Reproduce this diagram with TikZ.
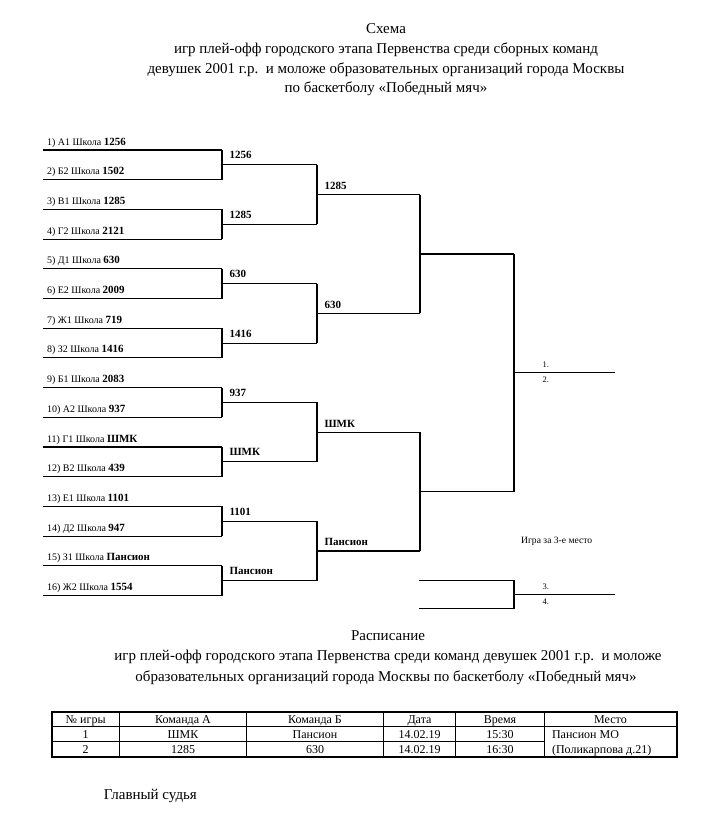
\documentclass[tikz,border=0pt]{standalone}
\usepackage{fontspec}
\setmainfont{Liberation Serif}
\usetikzlibrary{calc}
\begin{document}
\begin{tikzpicture}[x=1pt,y=-1pt,line width=1.1pt,
  team/.style={anchor=base west,inner sep=0pt,font=\fontsize{10}{11}\selectfont},
  win/.style={anchor=base west,inner sep=0pt,font=\fontsize{11}{12}\selectfont\bfseries},
  place/.style={anchor=base west,inner sep=0pt,font=\fontsize{8.5}{9}\selectfont},
  ttl/.style={anchor=base,inner sep=0pt,font=\fontsize{15}{17}\selectfont},
  cell/.style={anchor=base,inner sep=0pt,font=\fontsize{12}{13}\selectfont},
  thick border/.style={line width=1.8pt},
  thin rule/.style={line width=1.1pt}]
\fill[white] (0,0) rectangle (720,838);
\useasboundingbox (0,0) rectangle (720,838);

% titles
\node[ttl] (t1) at (386,33.3) {Схема};
\node[ttl] (t2) at (386,53.5) {игр плей-офф городского этапа Первенства среди сборных команд};
\node[ttl] (t3) at (386,73) {девушек 2001 г.р.\ \ и моложе образовательных организаций города Москвы};
\node[ttl] (t4) at (386,92) {по баскетболу «Победный мяч»};

% round 1
\foreach \i/\c/\n in {1/А1/1256,2/Б2/1502,3/В1/1285,4/Г2/2121,5/Д1/630,6/Е2/2009,7/Ж1/719,8/З2/1416,
  9/Б1/2083,10/А2/937,11/Г1/ШМК,12/В2/439,13/Е1/1101,14/Д2/947,15/З1/Пансион,16/Ж2/1554}{
  \pgfmathsetmacro\yy{150+29.7*(\i-1)}
  \coordinate (tL\i) at (43,\yy);
  \coordinate (tR\i) at (222,\yy);
  \draw (tL\i) -- (tR\i);
  \node[team] (lab\i) at (46.5,\yy-5) {\i) \c\ Школа {\fontsize{11}{12}\selectfont\bfseries \n}};
}
% round 2
\foreach \j/\w in {1/1256,2/1285,3/630,4/1416,5/937,6/ШМК,7/1101,8/Пансион}{
  \pgfmathtruncatemacro\a{2*\j-1}
  \pgfmathtruncatemacro\b{2*\j}
  \draw (tR\a) -- (tR\b);
  \coordinate (sL\j) at ($(tR\a)!.5!(tR\b)$);
  \path (sL\j) ++(95,0) coordinate (sR\j);
  \draw (sL\j) -- (sR\j);
  \node[win] (w2-\j) at ([shift={(7,-6)}]sL\j) {\w};
}
% round 3
\foreach \j/\w in {1/1285,2/630,3/ШМК,4/Пансион}{
  \pgfmathtruncatemacro\a{2*\j-1}
  \pgfmathtruncatemacro\b{2*\j}
  \draw (sR\a) -- (sR\b);
  \coordinate (qL\j) at ($(sR\a)!.5!(sR\b)$);
  \path (qL\j) ++(103,0) coordinate (qR\j);
  \draw (qL\j) -- (qR\j);
  \node[win] (w3-\j) at ([shift={(7,-5)}]qL\j) {\w};
}
% semifinals
\foreach \j in {1,2}{
  \pgfmathtruncatemacro\a{2*\j-1}
  \pgfmathtruncatemacro\b{2*\j}
  \draw (qR\a) -- (qR\b);
  \coordinate (pL\j) at ($(qR\a)!.5!(qR\b)$);
  \path (pL\j) ++(94,0) coordinate (pR\j);
  \draw (pL\j) -- (pR\j);
}
% final
\draw (pR1) -- (pR2);
\coordinate (fL) at ($(pR1)!.5!(pR2)$);
\path (fL) ++(101,0) coordinate (fR);
\draw (fL) -- (fR);
\node[place] (p1) at ([shift={(28,-5)}]fL) {1.};
\node[place] (p2) at ([shift={(28,10)}]fL) {2.};

% third place
\node[anchor=center,inner sep=0pt,font=\fontsize{9.6}{10}\selectfont] (third) at (556.7,541.7) {Игра за 3-е место};
\coordinate (a1) at (419.3,580.7);
\coordinate (a2) at (514,580.7);
\coordinate (b1) at (419.3,608.3);
\coordinate (b2) at (514,608.3);
\draw (a1) -- (a2) -- (b2) -- (b1);
\coordinate (gL) at ($(a2)!.5!(b2)$);
\path (gL) ++(101,0) coordinate (gR);
\draw (gL) -- (gR);
\node[place] (p3) at ([shift={(28,-5)}]gL) {3.};
\node[place] (p4) at ([shift={(28,9.5)}]gL) {4.};

% schedule title
\node[ttl] (s1) at (388,640) {Расписание};
\node[ttl] (s2) at (388,660.5) {игр плей-офф городского этапа Первенства среди команд девушек 2001 г.р.\ \ и моложе};
\node[ttl] (s3) at (386,681) {образовательных организаций города Москвы по баскетболу «Победный мяч»};

% table
\draw[thin rule] (52,726.7) -- (676.7,726.7);
\draw[thin rule] (52,741.7) -- (544.3,741.7);
\foreach \x in {119.3,246.7,383.3,455.7,544.3}{
  \draw[thin rule] (\x,712) -- (\x,756.7);
}
\draw[thick border] (52,712) rectangle (676.7,756.7);
\foreach \cx/\h/\ra/\rb [count=\k] in {85.65/№ игры/1/2, 183/Команда А/ШМК/1285, 315/Команда Б/Пансион/630,
   419.5/Дата/14.02.19/14.02.19, 500/Время/15:30/16:30}{
  \node[cell] (h\k) at (\cx,723.6) {\h};
  \node[cell] (ra\k) at (\cx,738.5) {\ra};
  \node[cell] (rb\k) at (\cx,753.5) {\rb};
}
\node[cell] (h6) at (610.5,723.6) {Место};
\node[cell,anchor=base west] (ra6) at (551.5,738.5) {Пансион МО};
\node[cell,anchor=base west] (rb6) at (551.5,753.5) {(Поликарпова д.21)};

\node[ttl,anchor=base west] (judge) at (103.3,799.5) {Главный судья};
\end{tikzpicture}
\end{document}
